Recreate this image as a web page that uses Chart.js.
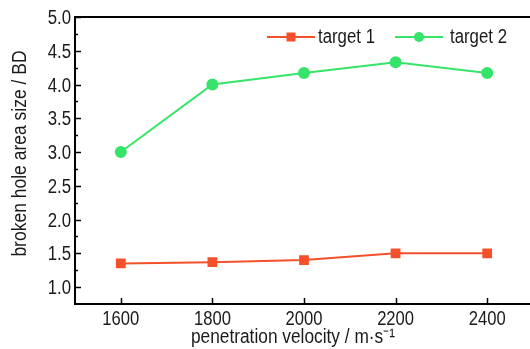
<!DOCTYPE html>
<html>
<head>
<meta charset="utf-8">
<script src="https://cdn.jsdelivr.net/npm/chart.js@4/dist/chart.umd.min.js"></script>
<style>
html,body{margin:0;padding:0;background:#fff;overflow:hidden;width:530px;height:349px;}
#wrap{position:relative;width:545px;height:349px;}
</style>
</head>
<body>
<div id="wrap"><canvas id="c"></canvas></div>
<script>
const velocities = [1600, 1800, 2000, 2200, 2400];
const target1 = [1.35, 1.37, 1.40, 1.50, 1.50];
const target2 = [3.00, 4.00, 4.17, 4.33, 4.17];
const seriesNames = ["target 1", "target 2"];
const xTickValues = [1600, 1800, 2000, 2200, 2400];
const yTickValues = [1.0, 1.5, 2.0, 2.5, 3.0, 3.5, 4.0, 4.5, 5.0];
const yMinorValues = [1.25, 1.75, 2.25, 2.75, 3.25, 3.75, 4.25, 4.75];
const xTitle = "penetration velocity / m·s⁻¹";
const yTitle = "broken hole area size / BD";

const RED = "#f4502a";
const GREEN = "#35e468";
const FONT = "'Liberation Sans', Arial, sans-serif";
const TEXT = "#1a1a1a";

function narrowText(ctx, text, x, y, align, sx) {
  ctx.save();
  ctx.translate(x, y);
  ctx.scale(sx, 1);
  ctx.textAlign = align;
  ctx.textBaseline = "alphabetic";
  ctx.fillText(text, 0, 0);
  ctx.restore();
}

const decor = {
  id: "decor",
  afterDraw(chart) {
    const {ctx, chartArea: a, scales: {x, y}} = chart;
    ctx.save();
    ctx.strokeStyle = "#000";
    ctx.lineWidth = 2;
    ctx.beginPath();
    ctx.moveTo(a.left - 1, a.top);
    ctx.lineTo(a.right, a.top);
    ctx.stroke();
    ctx.lineWidth = 1.5;
    yTickValues.forEach(v => {
      const py = Math.round(y.getPixelForValue(v)) + 0.5;
      ctx.beginPath(); ctx.moveTo(a.left, py); ctx.lineTo(a.left + 6, py); ctx.stroke();
    });
    yMinorValues.forEach(v => {
      const py = Math.round(y.getPixelForValue(v)) + 0.5;
      ctx.beginPath(); ctx.moveTo(a.left, py); ctx.lineTo(a.left + 3, py); ctx.stroke();
    });
    xTickValues.forEach(v => {
      const px = Math.round(x.getPixelForValue(v)) + 0.5;
      ctx.beginPath(); ctx.moveTo(px, a.bottom); ctx.lineTo(px, a.bottom - 6); ctx.stroke();
    });
    // tick labels
    ctx.fillStyle = TEXT;
    ctx.font = "20px " + FONT;
    yTickValues.forEach(v => {
      narrowText(ctx, v.toFixed(1), a.left - 4, y.getPixelForValue(v) + 7, "right", 0.84);
    });
    xTickValues.forEach(v => {
      narrowText(ctx, String(v), x.getPixelForValue(v), a.bottom + 21, "center", 0.83);
    });
    // axis titles
    narrowText(ctx, xTitle, 293, 343, "center", 0.865);
    ctx.save();
    ctx.translate(26, 153.5);
    ctx.rotate(-Math.PI / 2);
    narrowText(ctx, yTitle, 0, 0, "center", 0.875);
    ctx.restore();
    // legend
    const ly = 37;
    const items = [
      {name: seriesNames[0], color: RED, x0: 267, x1: 315, tx: 318, shape: "rect"},
      {name: seriesNames[1], color: GREEN, x0: 395, x1: 443, tx: 450, shape: "circle"}
    ];
    items.forEach(it => {
      ctx.strokeStyle = it.color; ctx.fillStyle = it.color; ctx.lineWidth = 2;
      ctx.beginPath(); ctx.moveTo(it.x0, ly); ctx.lineTo(it.x1, ly); ctx.stroke();
      const cx = (it.x0 + it.x1) / 2;
      if (it.shape === "rect") { ctx.fillRect(cx - 4.5, ly - 4.5, 9, 9); }
      else { ctx.beginPath(); ctx.arc(cx, ly, 5, 0, Math.PI * 2); ctx.fill(); }
      ctx.fillStyle = TEXT;
      narrowText(ctx, it.name, it.tx, 43, "left", 0.84);
    });
    ctx.restore();
  }
};

new Chart(document.getElementById("c"), {
  type: "line",
  data: {
    datasets: [
      {label: seriesNames[0], data: velocities.map((v, i) => ({x: v, y: target1[i]})),
       borderColor: RED, backgroundColor: RED, borderWidth: 2, pointStyle: "rect",
       pointRadius: 5.5, pointHoverRadius: 5.5, tension: 0},
      {label: seriesNames[1], data: velocities.map((v, i) => ({x: v, y: target2[i]})),
       borderColor: GREEN, backgroundColor: GREEN, borderWidth: 2, pointStyle: "circle",
       pointRadius: 5, pointHoverRadius: 5, tension: 0}
    ]
  },
  options: {
    responsive: true,
    maintainAspectRatio: false,
    animation: false,
    events: [],
    layout: {padding: {left: 0, top: 17, right: 12, bottom: 0}},
    plugins: {legend: {display: false}, tooltip: {enabled: false}},
    scales: {
      x: {
        type: "linear", min: 1500, max: 2500,
        afterBuildTicks: s => { s.ticks = xTickValues.map(v => ({value: v})); },
        afterFit: s => { s.height = 45; },
        grid: {display: false, drawTicks: false},
        border: {display: true, color: "#000", width: 2},
        ticks: {display: false}
      },
      y: {
        type: "linear", min: 0.75, max: 5.0,
        afterBuildTicks: s => { s.ticks = yTickValues.map(v => ({value: v})); },
        afterFit: s => { s.width = 75; },
        grid: {display: false, drawTicks: false},
        border: {display: true, color: "#000", width: 2},
        ticks: {display: false}
      }
    }
  },
  plugins: [decor]
});
</script>
</body>
</html>
